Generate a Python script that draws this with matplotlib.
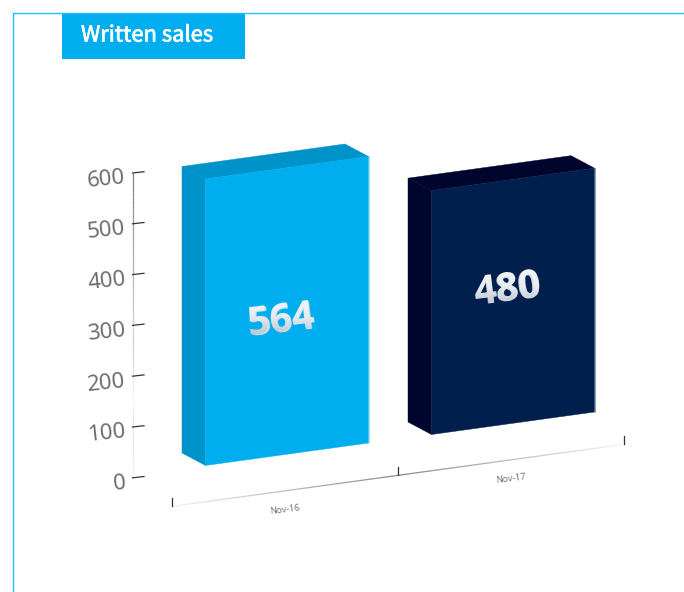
import numpy as np
import matplotlib
matplotlib.use('Agg')
import matplotlib.pyplot as plt
import matplotlib.patheffects as pe
from matplotlib.collections import LineCollection
from matplotlib.font_manager import FontProperties
from matplotlib.patches import Polygon, Rectangle, PathPatch
from matplotlib.textpath import TextPath
from matplotlib.transforms import Affine2D

categories = ['Nov-16', 'Nov-17']
values = [564, 480]
y_ticks = [0, 100, 200, 300, 400, 500, 600]
title = 'Written sales'

front_colors = ['#00aeef', '#001f4c']
side_colors = ['#0093c9', '#00052e']
edge_colors = ['#7fd6f7', '#5a7199']
line_color = '#6d6e71'

# the chart is a fake 3d picture, so everything goes through this projection
px_per_unit = 0.508
y_zero = (132.5, 477.8)
x_start = (172.3, 506.3)
x_step = (226.0, -31.0)
bar_offset = (33.2, -40.8)   # front bottom left corner, from the category start
bar_width = (163.0, -22.5)
bar_depth = (-23.5, -12.5)


def faded_line(ax, p0, p1, t_knots, a_knots):
    t = np.linspace(0, 1, 80)
    xs = p0[0] + (p1[0] - p0[0]) * t
    ys = p0[1] + (p1[1] - p0[1]) * t
    pts = np.column_stack([xs, ys]).reshape(-1, 1, 2)
    segs = np.concatenate([pts[:-1], pts[1:]], axis=1)
    rgba = np.tile(matplotlib.colors.to_rgba(line_color), (len(segs), 1))
    rgba[:, 3] = np.interp(t[:-1], t_knots, a_knots)
    ax.add_collection(LineCollection(segs, colors=rgba, linewidths=0.9))


def shiny_label(ax, cx, cy, s):
    # real text underneath, light to grey gradient clipped to the same glyphs on top
    size = 28
    ax.text(cx, cy, s, color='#dde3ea', fontsize=size, family='Open Sans', fontweight='bold',
            rotation=7, rotation_mode='anchor', ha='center', va='center_baseline')
    fp = FontProperties(family='Open Sans', weight='bold')
    tp = TextPath((0, 0), s, size=size * 100 / 72, prop=fp)
    bb = tp.get_extents()
    tr = (Affine2D().translate(-bb.x0 - bb.width / 2, -bb.y0 - bb.height / 2)
          .rotate_deg(7).scale(1, -1).translate(cx, cy))
    grad = np.linspace(0, 1, 60).reshape(-1, 1)
    w, h = bb.width / 2 + 6, bb.height / 2 + 8
    im = ax.imshow(grad, extent=(cx - w, cx + w, cy + h, cy - h), cmap=cmap, vmin=0, vmax=1,
                   aspect='auto', zorder=5, interpolation='bilinear')
    clip = PathPatch(tr.transform_path(tp), transform=ax.transData, fc='none', lw=0)
    ax.add_patch(clip)
    im.set_clip_path(clip)


cmap = matplotlib.colors.LinearSegmentedColormap.from_list('shine', ['#f4f8fb', '#e6ecf1', '#b4bcc6'])

fig = plt.figure(figsize=(6.84, 5.92), dpi=100)
ax = fig.add_axes([0, 0, 1, 1])
ax.axis('off')

# frame and title
ax.plot([12.5, 12.5, 684], [592, 12.5, 12.5], color='#1fc0f7', lw=1.0)
ax.add_patch(Rectangle((62, 13), 183, 46, color='#00aeef', lw=0))
ax.text(81, 35.5, title, color='white', fontsize=15.8, family='Noto Sans CJK SC',
        ha='left', va='center',
        path_effects=[pe.withStroke(linewidth=0.5, foreground='white')])

# value axis
faded_line(ax, (y_zero[0], y_zero[1] - 600 * px_per_unit), y_zero,
           [0, 0.5, 0.55, 0.75, 0.8, 1], [0.9, 0.3, 0.35, 0.03, 0.18, 0.08])
for v in y_ticks:
    y = y_zero[1] - v * px_per_unit
    ax.plot([y_zero[0], y_zero[0] + 11.5], [y, y - 1.3], color='#333333', lw=0.9)
    ax.text(125.5, y + 5, str(v), color=line_color, fontsize=16, family='Noto Sans',
            rotation=6, rotation_mode='anchor', ha='right', va='center')

# category axis
for i in range(len(categories)):
    p0 = (x_start[0] + i * x_step[0], x_start[1] + i * x_step[1])
    p1 = (p0[0] + x_step[0], p0[1] + x_step[1])
    if i == 0:
        faded_line(ax, p0, p1, [0, 1], [0.08, 0.85])
    else:
        faded_line(ax, p0, p1, [0, 1], [0.85, 0.05])
    ax.text(p0[0] + 113, p0[1] + 3.5, categories[i], color=line_color, fontsize=6.6,
            family='Open Sans', rotation=7, rotation_mode='anchor', ha='center', va='center')
for i in range(len(categories) + 1):
    x = x_start[0] + i * x_step[0]
    y = x_start[1] + i * x_step[1]
    ax.plot([x, x], [y - 8, y], color='#333333', lw=0.9)

# bars
for i, v in enumerate(values):
    h = v * px_per_unit
    x0 = x_start[0] + i * x_step[0] + bar_offset[0]
    y0 = x_start[1] + i * x_step[1] + bar_offset[1]
    xr, yr = x0 + bar_width[0], y0 + bar_width[1]
    xb, yb = x0 + bar_depth[0], y0 + bar_depth[1]
    front = [(x0, y0), (xr, yr), (xr, yr - h), (x0, y0 - h)]
    side = [(x0, y0), (xb, yb), (xb, yb - h), (x0, y0 - h)]
    top = [(x0, y0 - h), (xb, yb - h), (xb + bar_width[0], yb + bar_width[1] - h), (xr, yr - h)]
    ax.add_patch(Polygon(side, closed=True, fc=side_colors[i], ec=side_colors[i], lw=0.3))
    ax.add_patch(Polygon(top, closed=True, fc=side_colors[i], ec=side_colors[i], lw=0.3))
    ax.add_patch(Polygon(front, closed=True, fc=front_colors[i], ec=front_colors[i], lw=0.3))
    ax.plot([xr, xr], [yr, yr - h], color=edge_colors[i], lw=0.5)
    # label height does not follow the bar, it sits a fixed distance above the base
    shiny_label(ax, (x0 + xr) / 2 - 6, (y0 + yr) / 2 - 137, str(v))

ax.set_xlim(0, 684)
ax.set_ylim(592, 0)

fig.savefig('out.png', dpi=100)
